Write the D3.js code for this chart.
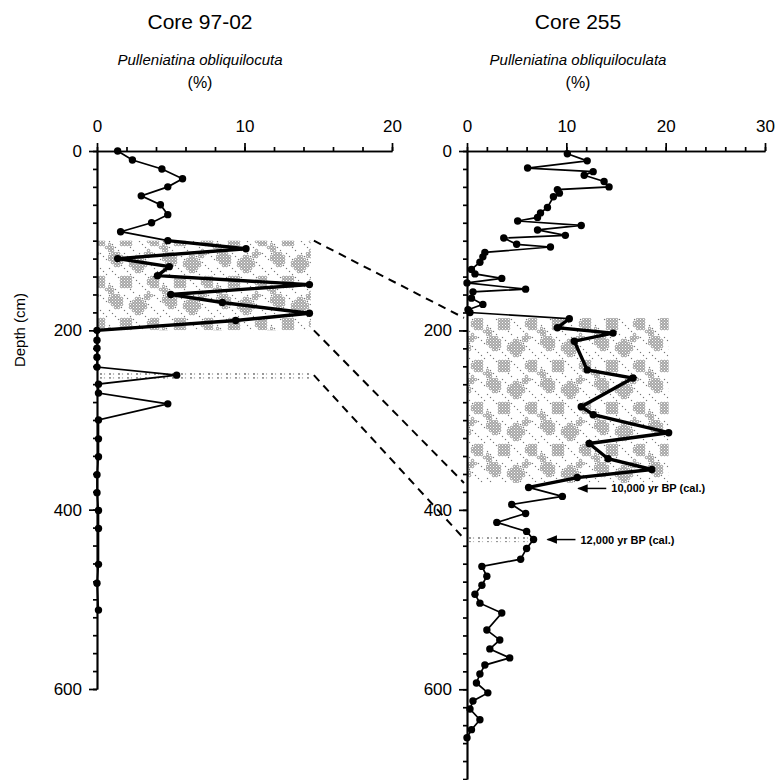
<!DOCTYPE html>
<html><head><meta charset="utf-8">
<script src="https://cdn.jsdelivr.net/npm/d3@7"></script>
<style>body{margin:0;background:#fff}svg{display:block}</style>
</head><body>
<script>
// ---- data ----
const leftDepth = [0,10,20,31,40,50,60,71,80,90,100,109,120,129,139,149,160,169,181,189,200,211,220,230,241,250,260,270,282,300,321,341,361,381,401,421,461,482,512];
const leftPct   = [1.4,2.4,4.4,5.8,4.8,3.0,4.3,4.8,3.7,1.6,4.8,10.1,1.4,4.9,4.1,14.4,5.0,8.5,14.4,9.4,0,0,0,0,0,5.4,0.1,0.1,4.8,0.1,0.1,0.1,0,0,0.1,0.1,0.1,0,0.1];
const rightDepth = [3,11,19,23,27,34,40,43,47,51,63,69,74,78,83,88,94,97,104,107,113,118,124,132,137,142,147,154,157,164,171,177,180,187,197,203,212,244,253,285,294,314,326,343,355,364,375,385,394,404,414,424,433,443,455,463,474,484,494,504,515,534,545,555,565,573,583,593,604,613,622,634,645,654];
const rightPct   = [10.1,12.1,6.1,12.7,11.8,13.8,14.3,9.1,9.3,8.7,8.1,7.4,7.1,5.1,11.5,7.1,9.9,3.7,5.0,8.4,1.8,1.6,1.3,0.45,0.8,3.5,0,5.9,0.6,0.45,1.6,0.1,0.3,10.3,9.1,14.7,10.8,12.1,16.7,11.5,12.7,20.3,12.3,14.2,18.6,11.1,6.2,9.6,4.5,5.9,3.0,6.0,6.7,6.0,5.4,1.5,2.0,1.5,0.8,1.3,3.5,2.0,3.3,2.3,4.3,1.8,1.3,0.95,2.1,0.6,0.3,1.3,0.45,0];
const leftXTicks = [0,10,20];
const rightXTicks = [0,10,20,30];
const depthTicks = [0,200,400,600];
const leftBold = [100,200];     // depth range of bold zigzag
const rightBold = [187,375];
const leftBands = [[100,200,14.5],[246,254,14.5]];   // [top, bottom, extent %]
const rightBands = [[186,370,20.3],[428,436,6.8]];
const correlations = [[100,186],[200,370],[250,432]]; // left depth -> right depth
const annotations = [{depth:375, pct:11.0, text:"10,000 yr BP (cal.)"},{depth:432, pct:7.9, text:"12,000 yr BP (cal.)"}];

const W = 779, H = 780;
const svg = d3.select("body").append("svg").attr("width", W).attr("height", H);
const font = "'Liberation Sans', Arial, sans-serif";

// halftone-like stipple texture
const defs = svg.append("defs");
const PW = 54, PH = 42;
const pat = defs.append("pattern").attr("id","stip").attr("patternUnits","userSpaceOnUse").attr("width",PW).attr("height",PH);
const blobs = [[8,7,7],[30,12,8],[46,30,6],[18,30,7],[40,2,4],[2,38,4]];
for (let gx = 1.5; gx < PW; gx += 3) {
  for (let gy = 1.5; gy < PH; gy += 3) {
    let inBlob = false;
    blobs.forEach(b => {
      for (const dx of [-PW,0,PW]) for (const dy of [-PH,0,PH]) {
        if (Math.hypot(gx - b[0] - dx, gy - b[1] - dy) < b[2]) inBlob = true;
      }
    });
    if (inBlob) pat.append("circle").attr("cx",gx).attr("cy",gy).attr("r",1.25).attr("fill","none").attr("stroke","#666").attr("stroke-width",0.7);
    else if ((Math.round(gx*7 + gy*13) % 5) === 0) pat.append("rect").attr("x",gx-0.6).attr("y",gy-0.6).attr("width",1.2).attr("height",1.2).attr("fill","#777");
  }
}
const pat2 = defs.append("pattern").attr("id","sparse").attr("patternUnits","userSpaceOnUse").attr("width",9).attr("height",4);
pat2.append("circle").attr("cx",2).attr("cy",2).attr("r",0.9).attr("fill","#666");
pat2.append("circle").attr("cx",5.5).attr("cy",2).attr("r",0.7).attr("fill","#999");

// ---- scales ----
const yL = d3.scaleLinear().domain([0,600]).range([151,689]);
const yR = d3.scaleLinear().domain([0,700]).range([151,779]);
const xL = d3.scaleLinear().domain([0,20]).range([97,392]);
const xR = d3.scaleLinear().domain([0,30]).range([467,765]);

function panel(x, y, depth, pct, bold, bands, xticks, maxDepth) {
  const g = svg.append("g");
  bands.forEach((b,i) => {
    g.append("rect").attr("x", x(0)).attr("y", y(b[0])).attr("width", x(b[2]) - x(0)).attr("height", y(b[1]) - y(b[0]))
      .attr("fill", i === 0 ? "url(#stip)" : "url(#sparse)");
  });
  const minorX = d3.range(0, xticks[xticks.length-1] + 0.001, 2);
  g.append("g").attr("transform", `translate(0,${y(0)})`)
    .call(d3.axisTop(x).tickValues(minorX).tickSize(4).tickSizeOuter(0).tickFormat(""))
    .call(s => s.selectAll("line,path").attr("stroke","#000").attr("stroke-width",1.7));
  g.append("g").attr("transform", `translate(0,${y(0)})`)
    .call(d3.axisTop(x).tickValues(xticks).tickSize(8).tickSizeOuter(0).tickPadding(11))
    .call(s => { s.selectAll("line,path").attr("stroke","#000").attr("stroke-width",1.7);
                 s.selectAll("text").attr("font-family",font).attr("font-size",17).attr("fill","#000"); });
  const minorY = d3.range(0, maxDepth + 0.001, 20);
  g.append("g").attr("transform", `translate(${x(0)},0)`)
    .call(d3.axisLeft(y).tickValues(minorY).tickSize(4).tickSizeOuter(0).tickFormat(""))
    .call(s => s.selectAll("line,path").attr("stroke","#000").attr("stroke-width",1.7));
  g.append("g").attr("transform", `translate(${x(0)},0)`)
    .call(d3.axisLeft(y).tickValues(depthTicks).tickSize(8).tickSizeOuter(0).tickPadding(7))
    .call(s => { s.selectAll("line,path").attr("stroke","#000").attr("stroke-width",1.7);
                 s.selectAll("text").attr("font-family",font).attr("font-size",17).attr("fill","#000"); });
  const pts = depth.map((d,i) => [x(pct[i]), y(d)]);
  const line = d3.line();
  g.append("path").attr("d", line(pts)).attr("fill","none").attr("stroke","#000").attr("stroke-width",1.7);
  const boldPts = pts.filter((p,i) => depth[i] >= bold[0] && depth[i] <= bold[1]);
  g.append("path").attr("d", line(boldPts)).attr("fill","none").attr("stroke","#000").attr("stroke-width",3.4);
  g.selectAll("circle.pt").data(pts).join("circle").attr("class","pt")
    .attr("cx", p => p[0]).attr("cy", p => p[1]).attr("r", 3.7).attr("fill","#000");
  return g;
}

panel(xL, yL, leftDepth, leftPct, leftBold, leftBands, leftXTicks, 600);
panel(xR, yR, rightDepth, rightPct, rightBold, rightBands, rightXTicks, 700);

const titles = [
  {x:200, t1:"Core 97-02", t2:"Pulleniatina obliquilocuta"},
  {x:578, t1:"Core 255", t2:"Pulleniatina obliquiloculata"}
];
titles.forEach(t => {
  svg.append("text").attr("x", t.x).attr("y", 29).attr("text-anchor","middle").attr("font-family",font).attr("font-size",21).text(t.t1);
  svg.append("text").attr("x", t.x).attr("y", 65).attr("text-anchor","middle").attr("font-family",font).attr("font-style","italic").attr("font-size",15).text(t.t2);
  svg.append("text").attr("x", t.x).attr("y", 88).attr("text-anchor","middle").attr("font-family",font).attr("font-size",16).text("(%)");
});

svg.append("text").attr("transform","translate(25,330) rotate(-90)").attr("text-anchor","middle")
  .attr("font-family",font).attr("font-size",15).text("Depth (cm)");

correlations.forEach(c => {
  svg.append("line").attr("x1", xL(14.5) + 3).attr("y1", yL(c[0])).attr("x2", xR(0) - 3).attr("y2", yR(c[1]))
    .attr("stroke","#000").attr("stroke-width",2).attr("stroke-dasharray","8,6");
});

defs.append("marker").attr("id","arr").attr("viewBox","0 0 10 10").attr("refX",9).attr("refY",5)
  .attr("markerWidth",7).attr("markerHeight",7).attr("orient","auto")
  .append("path").attr("d","M0,1 L10,5 L0,9 Z").attr("fill","#000");
annotations.forEach(a => {
  const x0 = xR(a.pct), yy = yR(a.depth) + 1;
  svg.append("line").attr("x1", x0 + 30).attr("y1", yy).attr("x2", x0 + 2).attr("y2", yy)
    .attr("stroke","#000").attr("stroke-width",1.5).attr("marker-end","url(#arr)");
  svg.append("text").attr("x", x0 + 35).attr("y", yy + 4).attr("font-family",font).attr("font-weight","bold")
    .attr("font-size",11).text(a.text);
});
</script>
</body></html>
